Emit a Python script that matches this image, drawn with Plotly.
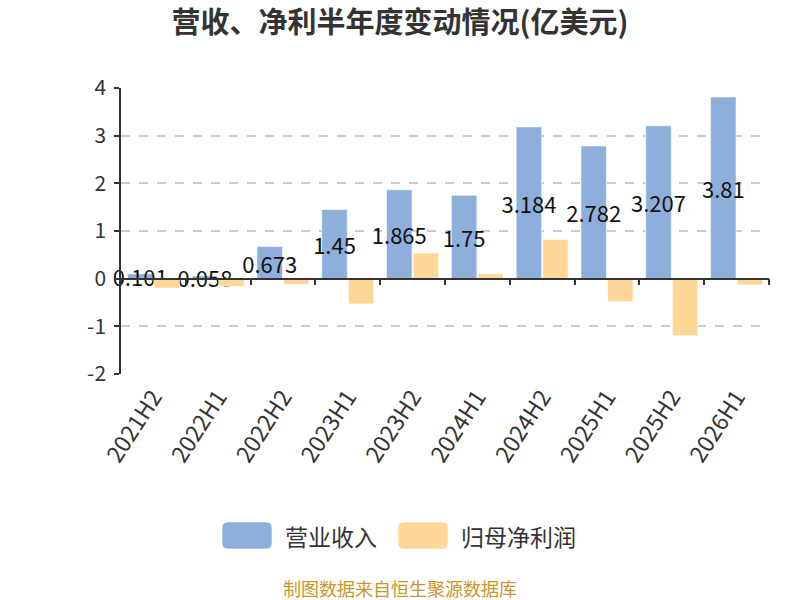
import plotly.graph_objects as go

categories = ["2021H2", "2022H1", "2022H2", "2023H1", "2023H2",
              "2024H1", "2024H2", "2025H1", "2025H2", "2026H1"]
revenue = [0.101, 0.058, 0.673, 1.45, 1.865, 1.75, 3.184, 2.782, 3.207, 3.81]
net_profit = [-0.20, -0.16, -0.12, -0.53, 0.54, 0.10, 0.82, -0.48, -1.20, -0.13]
y_ticks = [-2, -1, 0, 1, 2, 3, 4]
y_tick_text = ["-2", "-1", "0", "1", "2", "3", "4"]
series_names = ["营业收入", "归母净利润"]

BLUE = "#8EAEDC"
ORANGE = "#FFD898"
FONT = "Noto Sans CJK SC"

FIG_W, FIG_H = 800, 600
PLOT_L, PLOT_R, PLOT_T, PLOT_B = 121, 769, 88, 374  # page pixels

fig = go.Figure()
fig.add_trace(go.Bar(
    x=categories, y=revenue, name=series_names[0],
    marker=dict(color=BLUE, line=dict(color="rgba(255,255,255,0.6)", width=1)),
    text=[str(v) for v in revenue], textposition="inside",
    insidetextanchor="middle", textangle=0, constraintext="none",
    insidetextfont=dict(color="#111111", size=22, family=FONT),
    cliponaxis=False, showlegend=False, hoverinfo="x+y",
))
fig.add_trace(go.Bar(
    x=categories, y=net_profit, name=series_names[1],
    marker=dict(color=ORANGE, line=dict(color="rgba(255,255,255,0.6)", width=1)),
    showlegend=False, hoverinfo="x+y",
))
# helper (invisible) trace so the zero-line category axis gets its categories
fig.add_trace(go.Scatter(
    x=categories, y=[0] * len(categories), xaxis="x2", mode="markers",
    marker=dict(opacity=0), showlegend=False, hoverinfo="skip",
))

ymin, ymax = y_ticks[0], y_ticks[-1]

fig.update_layout(
    width=FIG_W, height=FIG_H,
    margin=dict(l=PLOT_L, r=FIG_W - PLOT_R, t=PLOT_T, b=FIG_H - PLOT_B),
    paper_bgcolor="white", plot_bgcolor="white",
    barmode="group", bargap=0.18, bargroupgap=0.04,
    font=dict(family=FONT, color="#333333"),
    title=dict(text="营收、净利半年度变动情况(亿美元)", x=0.5, xref="container",
               xanchor="center", y=1 - 23 / FIG_H, yanchor="middle",
               font=dict(size=29, family=FONT, color="#333333", weight="bold")),
    xaxis=dict(type="category", categoryarray=categories, range=[-0.5, len(categories) - 0.5],
               showline=False, ticks="", showgrid=False, tickangle=-57,
               tickfont=dict(size=23, color="#333333", family=FONT),
               ticklabelstandoff=4),
    xaxis2=dict(type="category", categoryarray=categories, range=[-0.5, len(categories) - 0.5],
                overlaying="x", anchor="free",
                position=(0 - ymin) / (ymax - ymin),
                showline=True, linecolor="#333333", linewidth=1.5,
                ticks="outside", tickson="boundaries", ticklen=6, tickwidth=1.5,
                tickcolor="#333333", showticklabels=False, showgrid=False),
    yaxis=dict(range=[ymin, ymax], tickvals=y_ticks, ticktext=y_tick_text, showline=True,
               linecolor="#333333", linewidth=1.5, ticks="outside", ticklen=5,
               tickwidth=1.5, tickcolor="#333333",
               showgrid=True, gridcolor="#CCCCCC", griddash="dash", gridwidth=1.5,
               zeroline=False, tickfont=dict(size=21, color="#333333", family=FONT),
               ticklabelstandoff=4),
)

# custom legend (rounded swatches) in pixel sizes anchored to paper coordinates
def px_x(p):
    return (p - PLOT_L) / (PLOT_R - PLOT_L)

def px_y(p):
    return (PLOT_B - p) / (PLOT_B - PLOT_T)

def rounded_rect(w, h, r):
    return (f"M {-w/2 + r},{-h/2} L {w/2 - r},{-h/2} Q {w/2},{-h/2} {w/2},{-h/2 + r} "
            f"L {w/2},{h/2 - r} Q {w/2},{h/2} {w/2 - r},{h/2} L {-w/2 + r},{h/2} "
            f"Q {-w/2},{h/2} {-w/2},{h/2 - r} L {-w/2},{-h/2 + r} Q {-w/2},{-h/2} {-w/2 + r},{-h/2} Z")

legend_items = [(series_names[0], BLUE, 247, 283), (series_names[1], ORANGE, 423, 459)]
for name, color, cx, tx in legend_items:
    fig.add_shape(type="path", xref="paper", yref="paper", xsizemode="pixel",
                  ysizemode="pixel", xanchor=px_x(cx), yanchor=px_y(535.5),
                  path=rounded_rect(50, 27, 6), fillcolor=color,
                  line=dict(color="rgba(255,255,255,0.6)", width=1))
    fig.add_annotation(text=name, xref="paper", yref="paper", x=px_x(tx), y=px_y(535.5),
                       xanchor="left", yanchor="middle", showarrow=False,
                       font=dict(size=23, color="#333333", family=FONT))

fig.add_annotation(text="制图数据来自恒生聚源数据库", xref="paper", yref="paper",
                   x=px_x(400), y=px_y(588), xanchor="center", yanchor="middle",
                   showarrow=False, font=dict(size=18, color="#C9962E", family=FONT))

fig.write_html(
    "out.html",
    config={"displayModeBar": False},
    post_script="document.body.style.margin='0';document.documentElement.style.overflow='hidden';",
)
